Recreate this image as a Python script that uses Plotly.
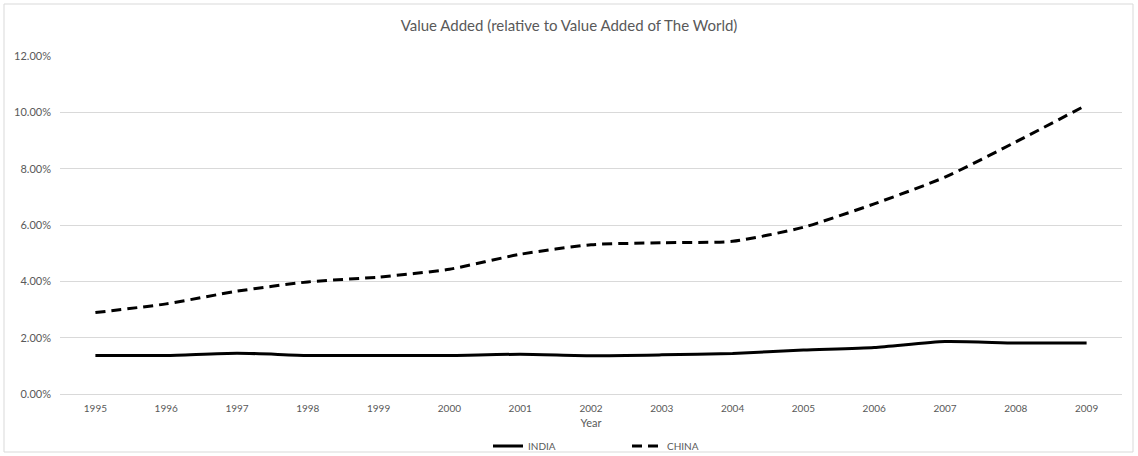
import plotly.graph_objects as go

# Share of world value added, per year
years = ["1995", "1996", "1997", "1998", "1999", "2000", "2001", "2002",
         "2003", "2004", "2005", "2006", "2007", "2008", "2009"]
india = [0.0137, 0.0137, 0.0145, 0.0137, 0.0137, 0.0137, 0.0141, 0.0136,
         0.0139, 0.0144, 0.0156, 0.0165, 0.0186, 0.0181, 0.0181]
china = [0.0289, 0.0320, 0.0365, 0.0398, 0.0415, 0.0443, 0.0496, 0.0530,
         0.0537, 0.0542, 0.0592, 0.0675, 0.0770, 0.0895, 0.1026]
y_ticks = [0.0, 0.02, 0.04, 0.06, 0.08, 0.10, 0.12]

W, H = 1138, 456
L, R, T, B = 60, 16, 56, 62
FONT = "Lato, 'Liberation Sans', sans-serif"
GREY = "#595959"

fig = go.Figure()
fig.add_trace(go.Scatter(
    x=years, y=india, name="INDIA", mode="lines",
    line=dict(color="black", width=3, shape="spline", smoothing=0.6),
))
fig.add_trace(go.Scatter(
    x=years, y=china, name="CHINA", mode="lines",
    line=dict(color="black", width=3, dash="10px,6px", shape="spline", smoothing=0.6),
))

pw, ph = W - L - R, H - T - B

# light frame around the whole chart
fig.add_shape(
    type="rect", xref="paper", yref="paper",
    x0=(4 - L) / pw, x1=(1133 - L) / pw,
    y0=(H - B - 452) / ph, y1=(H - B - 4) / ph,
    line=dict(color="#d9d9d9", width=1), fillcolor="rgba(0,0,0,0)", layer="below",
)

fig.update_layout(
    width=W, height=H,
    margin=dict(l=L, r=R, t=T, b=B, autoexpand=False),
    paper_bgcolor="white", plot_bgcolor="white",
    font=dict(family=FONT, color=GREY, size=10),
    title=dict(
        text="Value Added (relative to Value Added of The World)",
        x=0.5, xanchor="center", xref="container", y=1 - 26 / H, yanchor="middle",
        font=dict(size=15, color=GREY, family=FONT),
    ),
    xaxis=dict(
        type="category", range=[-0.5, 14.5],
        showgrid=False, showline=True, linecolor="#d9d9d9", linewidth=1,
        ticks="", tickfont=dict(size=10, color=GREY), ticklabelstandoff=5,
        title=dict(text="Year", font=dict(size=11, color=GREY), standoff=6),
    ),
    yaxis=dict(
        range=[0, 0.12], tickvals=y_ticks, tickformat=".2%",
        showgrid=True, gridcolor="#d9d9d9", gridwidth=1,
        zeroline=False, showline=False, ticks="",
        tickfont=dict(size=11, color=GREY), ticklabelstandoff=8,
    ),
    legend=dict(
        orientation="h", x=(488 - L) / pw, xanchor="left",
        y=-(446 - (H - B)) / ph, yanchor="middle",
        font=dict(size=10, color=GREY), bgcolor="rgba(0,0,0,0)",
        itemwidth=30, entrywidthmode="pixels", entrywidth=94,
    ),
    showlegend=True,
)

fig.write_html("out.html")
